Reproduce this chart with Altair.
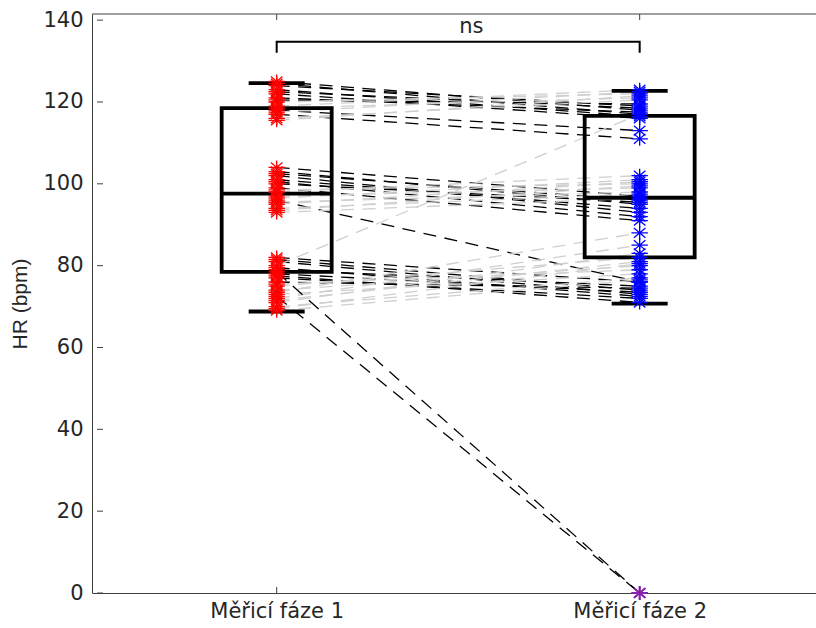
import altair as alt
import pandas as pd

# ---------------- data ----------------
phase_labels = ["Měřicí fáze 1", "Měřicí fáze 2"]
phase_pos = [1, 2]

hr_phase1 = [
    125, 124.5, 124, 123, 122.5, 122, 121, 120.5, 120, 119, 118.5, 118, 117.5, 117, 116, 115.5,
    104, 103, 102.5, 102, 101, 100.5, 100, 99, 98.5, 98, 97, 96.5, 96, 95.5, 95, 94, 93.5, 93,
    82, 81.5, 81, 80, 79.5, 79, 78, 77.5, 77, 76, 75.5, 75, 74, 73.5, 73, 72, 71.5, 71, 70, 69.5, 69,
    78.5, 72.5,
]
hr_phase2 = [
    118, 117, 119, 116.5, 118.5, 116, 117.5, 119.5, 122, 123, 121, 113, 122.5, 111, 120.5, 121.5,
    97, 95, 96, 93, 94, 92, 95.5, 91, 100, 102, 99, 101, 76, 98, 100.5, 97.5, 99.5, 96.5,
    76, 74, 73, 117, 72.5, 75, 73.5, 71, 72, 74.5, 79, 82, 80, 88, 78, 85, 81, 83, 77, 80.5, 76.5,
    0, 0,
]

box_q1 = [78.5, 82.0]
box_median = [97.6, 96.6]
box_q3 = [118.5, 116.6]
whisker_low = [68.8, 70.7]
whisker_high = [124.6, 122.7]

y_tick_values = [0, 20, 40, 60, 80, 100, 120, 140]
sig_text = "ns"
sig_bracket_level = 134.7
sig_bracket_end = 132.0
sig_text_level = 138.3

# ---------------- layout / style ----------------
XMIN, XMAX = 0.505, 2.472
YMIN, YMAX = 0, 141.5
W, H = 724, 579
FONT = "DejaVu Sans"
FS = 21
TXT = "#262626"
AX = "#404040"
ASTERISK = "M-1,0H1M0,-0.85V0.85M-0.7,-0.6L0.7,0.6M-0.7,0.6L0.7,-0.6"

label_expr = "datum.value == 1 ? '%s' : '%s'" % (phase_labels[0], phase_labels[1])


def xenc(field):
    return alt.X(field, type="quantitative",
                 scale=alt.Scale(domain=[XMIN, XMAX], nice=False, zero=False),
                 axis=alt.Axis(values=phase_pos, labelExpr=label_expr, ticks=False,
                               grid=False, title=None, domainColor=AX,
                               labelFont=FONT, labelFontSize=FS, labelColor=TXT,
                               labelPadding=7))


def yenc(field):
    return alt.Y(field, type="quantitative",
                 scale=alt.Scale(domain=[YMIN, YMAX], nice=False, zero=False),
                 axis=alt.Axis(values=y_tick_values, ticks=False, grid=False,
                               title="HR (bpm)", titleFont="Liberation Sans", titleFontSize=21,
                               titleFontWeight="normal", titleColor=TXT, titlePadding=12,
                               domainColor=AX, labelFont=FONT, labelFontSize=FS,
                               labelColor=TXT, labelPadding=9))


rows = []
for i, (a, b) in enumerate(zip(hr_phase1, hr_phase2)):
    d = "up" if b > a else "down"
    rows.append({"subj": i, "x": phase_pos[0], "hr": a, "dir": d, "phase": "p1"})
    rows.append({"subj": i, "x": phase_pos[1], "hr": b, "dir": d, "phase": "p2"})
pairs = pd.DataFrame(rows)

boxes = pd.DataFrame({"x": phase_pos, "q1": box_q1, "med": box_median, "q3": box_q3,
                      "lo": whisker_low, "hi": whisker_high})

lines = alt.Chart(pairs).mark_line(strokeDash=[13, 8.5], strokeWidth=1.3).encode(
    x=xenc("x"), y=yenc("hr"), detail="subj:N",
    color=alt.Color("dir:N", scale=alt.Scale(domain=["up", "down"], range=["#cfcfcf", "#000000"]),
                    legend=None),
    order=alt.Order("subj:Q"),
)

base_box = alt.Chart(boxes)
whisk_up = base_box.mark_rule(color="black", strokeWidth=1.2).encode(x=xenc("x"), y=yenc("q3"), y2="hi")
whisk_dn = base_box.mark_rule(color="black", strokeWidth=1.2).encode(x=xenc("x"), y=yenc("lo"), y2="q1")
box = base_box.mark_bar(size=110, fillOpacity=0, stroke="black", strokeWidth=3.8).encode(
    x=xenc("x"), y=yenc("q1"), y2="q3")
median = base_box.mark_tick(orient="horizontal", size=110, thickness=3.8, color="black",
                            opacity=1).encode(x=xenc("x"), y=yenc("med"))
cap_hi = base_box.mark_tick(orient="horizontal", size=56, thickness=3.8, color="black",
                            opacity=1).encode(x=xenc("x"), y=yenc("hi"))
cap_lo = base_box.mark_tick(orient="horizontal", size=56, thickness=3.8, color="black",
                            opacity=1).encode(x=xenc("x"), y=yenc("lo"))

pts1 = alt.Chart(pairs).transform_filter("datum.phase == 'p1'").mark_point(
    shape=ASTERISK, size=270, filled=False, strokeWidth=1.3, opacity=1, color="#ff0000").encode(
    x=xenc("x"), y=yenc("hr"))
pts2 = alt.Chart(pairs).transform_filter("datum.phase == 'p2' && datum.hr > 0").mark_point(
    shape=ASTERISK, size=270, filled=False, strokeWidth=1.3, opacity=1, color="#0000ff").encode(
    x=xenc("x"), y=yenc("hr"))
pts0 = alt.Chart(pairs).transform_filter("datum.phase == 'p2' && datum.hr == 0").mark_point(
    shape=ASTERISK, size=270, filled=False, strokeWidth=1.8, opacity=1, color="#8a22b0").encode(
    x=xenc("x"), y=yenc("hr"))

bracket_df = pd.DataFrame({"x": [phase_pos[0], phase_pos[0], phase_pos[1], phase_pos[1]],
                           "y": [sig_bracket_end, sig_bracket_level, sig_bracket_level, sig_bracket_end],
                           "k": [0, 1, 2, 3]})
bracket = alt.Chart(bracket_df).mark_line(color="black", strokeWidth=2).encode(
    x=xenc("x"), y=yenc("y"), order="k:Q")
sig = alt.Chart(pd.DataFrame({"x": [(phase_pos[0] + phase_pos[1]) / 2], "y": [sig_text_level],
                              "t": [sig_text]})).mark_text(
    font=FONT, fontSize=FS, color=TXT, align="left", dx=1).encode(
    x=xenc("x"), y=yenc("y"), text="t:N")

# inward ticks (MATLAB style) and top frame line
yt = alt.Chart(pd.DataFrame({"x": [XMIN] * len(y_tick_values), "y": y_tick_values})).mark_tick(
    orient="horizontal", size=6, thickness=1, color=AX, xOffset=3, opacity=1).encode(
    x=xenc("x"), y=yenc("y"))
xt_top = alt.Chart(pd.DataFrame({"x": phase_pos, "y": [YMAX, YMAX]})).mark_tick(
    orient="vertical", size=6, thickness=1, color=AX, yOffset=3, opacity=1).encode(
    x=xenc("x"), y=yenc("y"))
xt_bot = alt.Chart(pd.DataFrame({"x": phase_pos, "y": [YMIN, YMIN]})).mark_tick(
    orient="vertical", size=6, thickness=1, color=AX, yOffset=-3, opacity=1).encode(
    x=xenc("x"), y=yenc("y"))
top_frame = alt.Chart(pd.DataFrame({"a": [0]})).mark_rule(color=AX, strokeWidth=1).encode(
    y=alt.value(0), x=alt.value(0), x2=alt.value(W))

chart = alt.layer(
    lines, whisk_up, whisk_dn, box, median, cap_hi, cap_lo, pts1, pts2, pts0,
    bracket, sig, yt, xt_top, xt_bot, top_frame,
).properties(
    width=W, height=H,
    padding={"left": 92, "top": 14, "right": 0, "bottom": 35},
    autosize=alt.AutoSizeParams(type="none"),
    background="white",
).configure_view(strokeWidth=0)

chart.save("out.html", embed_options={"renderer": "svg", "actions": False})
